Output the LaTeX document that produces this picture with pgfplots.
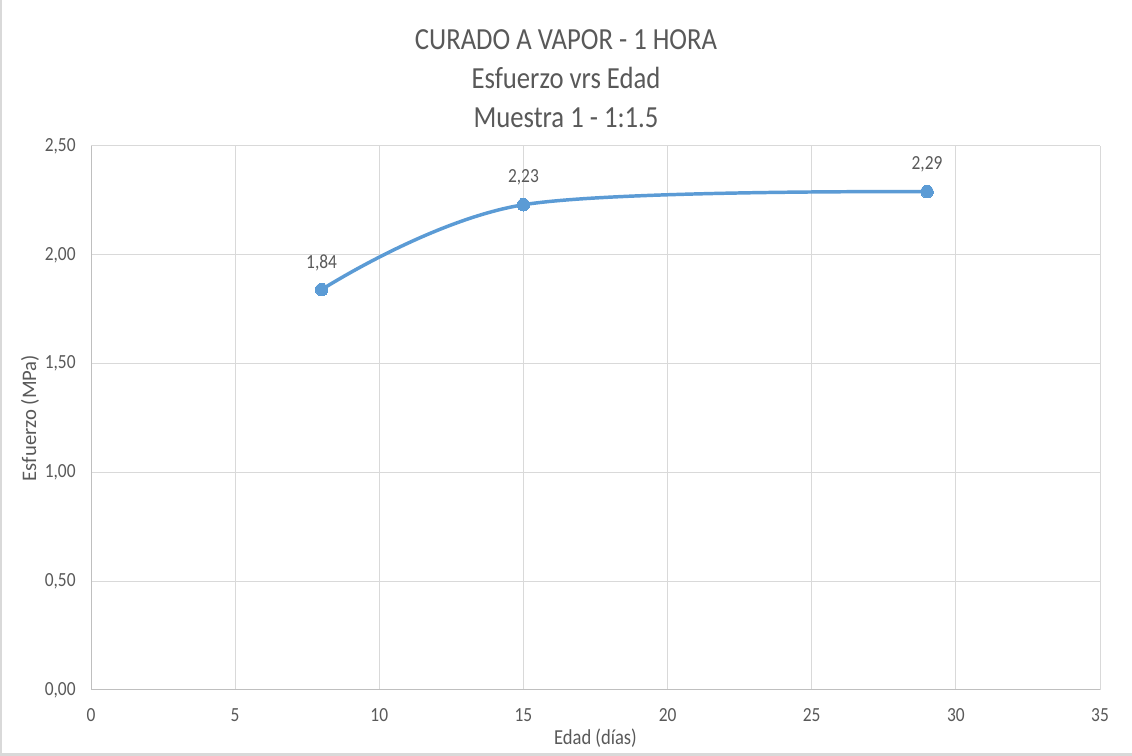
\documentclass[border=0pt]{standalone}
\usepackage{pgfplots}
\pgfplotsset{compat=1.18}
\usepackage{fontspec}
\setmainfont{Carlito}[FakeStretch=0.87]
\newfontfamily\plainfont{Carlito}
\definecolor{txt}{HTML}{595959}
\definecolor{gridc}{HTML}{D9D9D9}
\definecolor{axc}{HTML}{BFBFBF}
\definecolor{ser}{HTML}{5B9BD5}
\definecolor{frame}{HTML}{D9D9D9}
\begin{document}
\begin{tikzpicture}[x=1pt,y=1pt]
\fill[white] (0,0) rectangle (849,567);
\fill[frame] (0,0) rectangle (849,2.25);
\fill[frame] (0,0) rectangle (1.5,567);
\begin{axis}[
  at={(68.25pt,49.5pt)}, anchor=south west,
  scale only axis, width=756.75pt, height=408pt,
  xmin=0, xmax=35, ymin=0, ymax=2.5,
  xtick={0,5,...,35}, ytick={0,0.5,...,2.5},
  axis lines*=left, axis line style={-, draw=axc, line width=0.75pt},
  grid=major, major grid style={draw=gridc, line width=0.75pt},
  major tick length=0pt,
  /pgf/number format/assume math mode=true,
  ticklabel style={font=\fontsize{15}{17}\selectfont, text=txt},
  yticklabel={\pgfmathprintnumber[fixed,fixed zerofill,precision=2,use comma]{\tick}},
  yticklabel style={xshift=-8pt},
  xticklabel style={yshift=-10.5pt},
  clip=false,
]
\addplot[ser, line width=2.6pt, smooth, tension=0.55, mark=*, mark size=4.7pt,
  mark options={fill=ser, draw=ser, line width=0pt},
  nodes near coords={\pgfmathprintnumber[fixed,fixed zerofill,precision=2,use comma,assume math mode=true]{\pgfplotspointmeta}},
  every node near coord/.append style={anchor=center, yshift=20.25pt, font=\fontsize{15}{17}\selectfont, text=txt},
] coordinates {(8,1.84) (15,2.23) (29,2.29)};
\end{axis}
\node[text=txt, font=\fontsize{23}{26}\selectfont] at (424.5,537) {CURADO A VAPOR - 1 HORA};
\node[text=txt, font=\fontsize{23}{26}\selectfont] at (424.5,508.5) {Esfuerzo vrs Edad};
\node[text=txt, font=\fontsize{23}{26}\selectfont] at (424.5,478.5) {Muestra 1 - 1:1.5};
\node[text=txt, font=\fontsize{16}{18}\selectfont] at (446.6,13.5) {Edad (días)};
\node[text=txt, font=\plainfont\fontsize{15.5}{18}\selectfont, rotate=90] at (22.5,253.5) {Esfuerzo (MPa)};
\end{tikzpicture}
\end{document}
